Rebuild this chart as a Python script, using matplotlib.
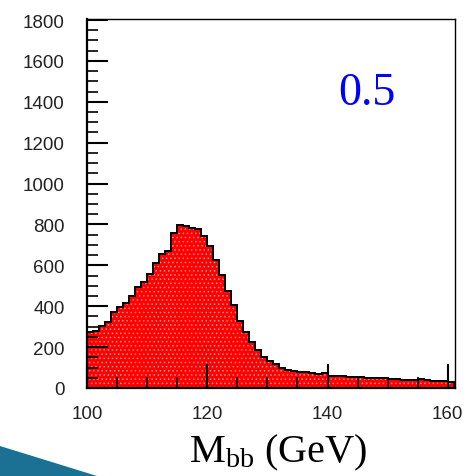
import numpy as np
import matplotlib
matplotlib.use('Agg')
import matplotlib.pyplot as plt
from matplotlib.patches import Polygon

# histogram contents, 1 GeV bins from 100 to 161
edges = np.arange(100, 162, 1)
counts = [272, 280, 305, 321, 373, 395, 416, 452, 493, 517,
          558, 610, 656, 669, 757, 797, 791, 783, 778, 745,
          693, 626, 553, 473, 405, 329, 272, 224, 188, 150,
          132, 117, 96, 90, 82, 77, 77, 72, 70, 71,
          60, 57, 60, 56, 56, 52, 49, 49, 47, 49,
          42, 42, 40, 39, 40, 44, 37, 34, 34, 34,
          31]
x_ticks = [100, 120, 140, 160]
y_ticks = list(range(0, 1801, 200))
label_text = '0.5'

plt.rcParams['hatch.color'] = '#ff8a8a'
plt.rcParams['hatch.linewidth'] = 0.6
plt.rcParams['mathtext.fontset'] = 'custom'
plt.rcParams['mathtext.rm'] = 'Liberation Serif'
plt.rcParams['mathtext.it'] = 'Liberation Serif:italic'

fig = plt.figure(figsize=(4.69, 4.77), dpi=100)
ax = fig.add_axes([87 / 469, 88 / 477, 368 / 469, 369 / 477])

ax.stairs(counts, edges, fill=True, facecolor='#ff0000', edgecolor='#ff8a8a',
          hatch='....', linewidth=0)
ax.stairs(counts, edges, color='black', linewidth=1.4)

ax.set_xlim(100, 161.2)
ax.set_ylim(0, 1805)

ax.set_xticks(x_ticks)
ax.set_xticks(np.arange(100, 161, 5), minor=True)
ax.set_yticks(y_ticks)
ax.set_yticks(np.arange(0, 1801, 50), minor=True)
ax.tick_params(axis='both', which='both', direction='in', colors='black',
               labelcolor='#222222', labelsize=13.5, labelfontfamily='Liberation Sans')
ax.tick_params(axis='y', which='major', length=15, width=1.5, pad=16)
ax.tick_params(axis='y', which='minor', length=8, width=1.2)
ax.tick_params(axis='x', which='major', length=17, width=1.5, pad=12)
ax.tick_params(axis='x', which='minor', length=8, width=1.2)

for side in ['left', 'bottom']:
    ax.spines[side].set_linewidth(1.6)
for side in ['top', 'right']:
    ax.spines[side].set_linewidth(1.0)

ax.text(0.761, 0.80, label_text, transform=ax.transAxes, color='#0000ff',
        fontsize=33, family='Liberation Serif', ha='center', va='center')

fig.text(278 / 469, 15 / 477, r'M$_{\mathrm{bb}}$ (GeV)', fontsize=29,
         family='Liberation Serif', ha='center', va='baseline')

# slide decoration in the lower left corner
deco = Polygon([(0, 30 / 477), (97 / 469, 0), (0, 0)], closed=True,
               transform=fig.transFigure, facecolor='#1a7194', edgecolor='none')
fig.patches.append(deco)

fig.savefig('out.png', dpi=100)
